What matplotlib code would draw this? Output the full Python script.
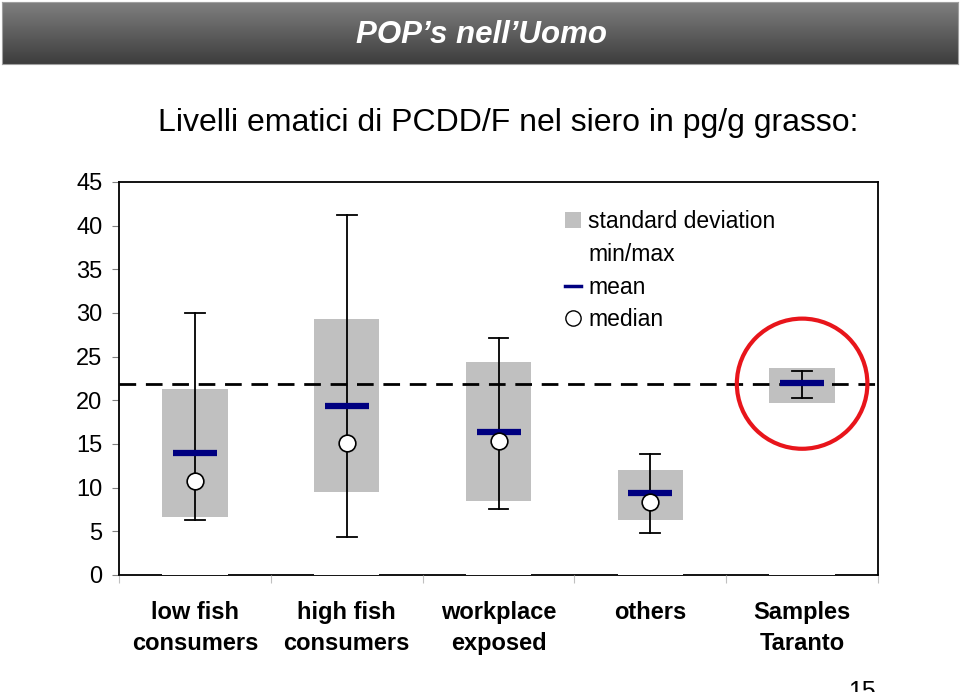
import numpy as np
import matplotlib.pyplot as plt
from matplotlib.patches import Ellipse, Patch
from matplotlib.lines import Line2D

plt.rcParams['font.family'] = ['Liberation Sans', 'DejaVu Sans']

# data (pg/g fat)
groups = ['low fish\nconsumers', 'high fish\nconsumers', 'workplace\nexposed', 'others', 'Samples\nTaranto']
sd_low = [6.6, 9.5, 8.5, 6.3, 19.7]
sd_high = [21.3, 29.3, 24.4, 12.0, 23.7]
val_min = [6.3, 4.3, 7.6, 4.8, 20.3]
val_max = [30.0, 41.2, 27.1, 13.9, 23.3]
mean = [14.0, 19.4, 16.4, 9.4, 22.0]
median = [10.8, 15.1, 15.3, 8.4, np.nan]
limit = 21.9

x = np.arange(len(groups))

fig = plt.figure(figsize=(9.6, 6.92), dpi=100)

# header bar with gradient
hax = fig.add_axes([0.002, 1 - 64 / 692, 0.996, 62 / 692])
grad = np.linspace(0, 1, 100).reshape(-1, 1)
hax.imshow(grad, aspect='auto', cmap=plt.matplotlib.colors.LinearSegmentedColormap.from_list(
    'hdr', ['#808080', '#3d3d3d']), extent=[0, 1, 0, 1])
hax.set_xticks([])
hax.set_yticks([])
for s in hax.spines.values():
    s.set_color('#a0a0a0')
hax.text(0.502, 0.47, 'POP\u2019s nell\u2019Uomo', color='white', fontsize=22.5,
         fontweight='bold', fontstyle='italic', ha='center', va='center')

fig.text(508 / 960, 1 - 123 / 692, 'Livelli ematici di PCDD/F nel siero in pg/g grasso:',
         fontsize=23, ha='center', va='center')

ax = fig.add_axes([0.124, 0.1691, 0.7906, 0.568])
width = 0.43
sd_height = [h - l for h, l in zip(sd_high, sd_low)]
ax.bar(x, sd_low, width=width, color='white', zorder=2)
ax.bar(x, sd_height, bottom=sd_low, width=width, color='#c0c0c0', zorder=2)

for i in x:
    ax.plot([i, i], [val_min[i], val_max[i]], color='black', lw=1.3, zorder=3)
    ax.plot([i - 0.065, i + 0.065], [val_min[i]] * 2, color='black', lw=1.3, zorder=3)
    ax.plot([i - 0.065, i + 0.065], [val_max[i]] * 2, color='black', lw=1.3, zorder=3)

ax.plot([-0.5, 4.5], [limit, limit], color='black', lw=2, ls=(0, (6, 3.5)), zorder=4)

ax.plot(x, mean, ls='none', marker='_', markersize=32, mew=4.5, color='#000080', zorder=5)
ax.plot(x, median, ls='none', marker='o', markersize=12, mfc='white', mec='black',
        mew=1.2, zorder=6)

ax.add_patch(Ellipse((4, limit), 0.86, 14.9, fill=False, edgecolor='#e8151b', lw=3, zorder=7))

ax.set_xlim(-0.5, 4.5)
ax.set_ylim(0, 45)
ax.set_yticks(range(0, 46, 5))
ax.tick_params(axis='y', labelsize=17, length=5, color='#808080', pad=7)
ax.set_xticks(np.arange(-0.5, 5, 1))
ax.set_xticks(x, minor=True)
ax.set_xticklabels([''] * 6)
ax.set_xticklabels(groups, minor=True, fontsize=17, fontweight='bold', linespacing=1.4)
ax.tick_params(axis='x', which='major', length=6, color='#c0c0c0')
ax.tick_params(axis='x', which='minor', length=0, pad=19)
ax.spines['bottom'].set_zorder(1)
for s in ax.spines.values():
    s.set_linewidth(1.3)

handles = [Patch(facecolor='#c0c0c0', edgecolor='none'),
           Line2D([], [], color='none'),
           Line2D([], [], color='#000080', lw=2.5),
           Line2D([], [], ls='none', marker='o', markersize=11, mfc='white', mec='black')]
labels = ['standard deviation', 'min/max', 'mean', 'median']
leg = ax.legend(handles, labels, loc='upper left', bbox_to_anchor=(0.561, 0.98), frameon=False,
                fontsize=16.5, handlelength=0.7, handletextpad=0.3, labelspacing=0.42)

fig.text(862 / 960, 1 - 692 / 692, '15', fontsize=18, ha='center', va='center')

fig.savefig('out.png', dpi=100)
